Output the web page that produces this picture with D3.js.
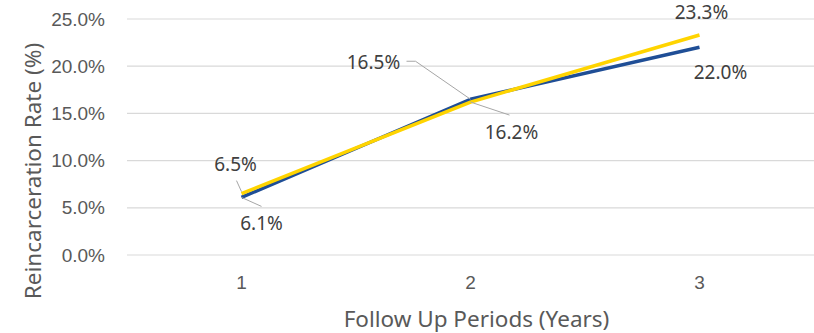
<!DOCTYPE html>
<html>
<head>
<meta charset="utf-8">
<script src="https://cdn.jsdelivr.net/npm/d3@7/dist/d3.min.js"></script>
<style>
  html, body { margin: 0; padding: 0; background: #fff; }
  svg { display: block; font-family: "Source Sans Pro", "Noto Sans", "Open Sans", sans-serif; }
</style>
</head>
<body>
<svg id="chart" width="814" height="333"></svg>
<script>
// Follow-up periods (years) on the x axis
const periods = ["1", "2", "3"];
// Reincarceration rates (%) for the two cohorts
const seriesBlue = [6.1, 16.5, 22.0];
const seriesYellow = [6.5, 16.2, 23.3];
// y axis ticks
const yTicks = [0, 5, 10, 15, 20, 25];

const svg = d3.select("#chart");
const margin = { left: 127, right: 0, top: 19, bottom: 78 };
const W = 814, H = 333;

const x = d3.scaleBand().domain(periods).range([margin.left, W - margin.right]);
const y = d3.scaleLinear().domain([0, 25]).range([H - margin.bottom, margin.top]);
const cx = d => x(d) + x.bandwidth() / 2;

const textColor = "#595959";
const tickSize = "19px";
const titleSize = "22.5px";

// gridlines
svg.append("g").selectAll("line").data(yTicks).join("line")
  .attr("x1", margin.left).attr("x2", W - margin.right)
  .attr("y1", d => y(d)).attr("y2", d => y(d))
  .attr("stroke", "#d9d9d9").attr("stroke-width", 1.2);

// y axis labels
const yAxis = d3.axisLeft(y).tickValues(yTicks).tickSize(0).tickPadding(22)
  .tickFormat(d => d.toFixed(1) + "%");
const gy = svg.append("g").attr("transform", `translate(${margin.left},0)`).call(yAxis);
gy.select(".domain").remove();
gy.selectAll("text").attr("fill", textColor).style("font-size", tickSize)
  .style("font-family", "inherit");

// x axis labels
const xAxis = d3.axisBottom(x).tickSize(0).tickPadding(21);
const gx = svg.append("g").attr("transform", `translate(0,${y(0)})`).call(xAxis);
gx.select(".domain").remove();
gx.selectAll("text").attr("fill", textColor).style("font-size", tickSize)
  .style("font-family", "inherit");

// axis titles
svg.append("text")
  .attr("transform", `translate(41,${(y(0) + y(25)) / 2 + 34}) rotate(-90)`)
  .attr("text-anchor", "middle").attr("fill", textColor)
  .style("font-size", titleSize).text("Reincarceration Rate (%)");
svg.append("text")
  .attr("x", (margin.left + W) / 2 + 6).attr("y", 327)
  .attr("text-anchor", "middle").attr("fill", textColor)
  .style("font-size", titleSize).text("Follow Up Periods (Years)");

// lines
const line = d3.line().x((d, i) => cx(periods[i])).y(d => y(d));
svg.append("path").datum(seriesBlue).attr("d", line)
  .attr("fill", "none").attr("stroke", "#1f4e96").attr("stroke-width", 3.5)
  .attr("stroke-linejoin", "round");
svg.append("path").datum(seriesYellow).attr("d", line)
  .attr("fill", "none").attr("stroke", "#ffd400").attr("stroke-width", 3.5)
  .attr("stroke-linejoin", "round");

// data labels with leader lines: offsets of label centre relative to the point
const labelSpecs = [
  { values: seriesBlue, offs: [
      { dx: 20, dy: 26, lead: [[0, 0], [20, 9]] },
      { dx: -97, dy: -37, lead: [[0, 0], [-55, -38], [-64, -38]] },
      { dx: 21, dy: 25, lead: null } ] },
  { values: seriesYellow, offs: [
      { dx: -6, dy: -29, lead: [[0, -2], [-5, -13]] },
      { dx: 41, dy: 30, lead: [[0, 0], [39, 13]] },
      { dx: 2, dy: -23, lead: null } ] }
];
labelSpecs.forEach(s => {
  s.values.forEach((v, i) => {
    const px = cx(periods[i]), py = y(v), o = s.offs[i];
    if (o.lead) {
      svg.append("path")
        .attr("d", d3.line()(o.lead.map(p => [px + p[0], py + p[1]])))
        .attr("fill", "none").attr("stroke", "#a6a6a6").attr("stroke-width", 1);
    }
    svg.append("text").attr("x", px + o.dx).attr("y", py + o.dy)
      .attr("text-anchor", "middle").attr("dy", "0.35em")
      .attr("fill", "#404040").style("font-size", tickSize)
      .text(v.toFixed(1) + "%");
  });
});
</script>
</body>
</html>
